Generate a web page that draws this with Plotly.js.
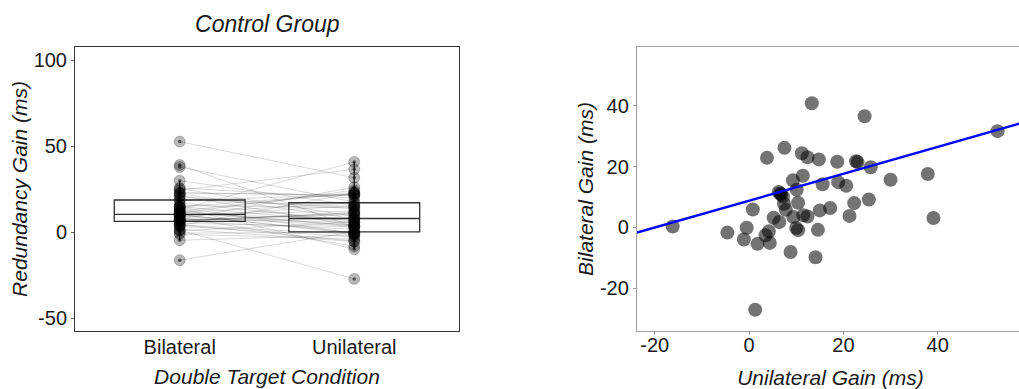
<!DOCTYPE html>
<html>
<head>
<meta charset="utf-8">
<script src="https://cdn.plot.ly/plotly-3.0.1.min.js"></script>
<style>
html,body{margin:0;padding:0;overflow:hidden;background:#fff;}
#chart{width:1024px;height:389px;}
</style>
</head>
<body>
<div id="chart"></div>
<script>
// Paired redundancy gains (ms) per participant, same order in both arrays
const bilateral = [-16.2, 13.3, 24.5, 52.7, 7.5, 3.8, 11.2, 12.4, 14.8, 18.7,
  23.0, 22.7, 25.8, 30.0, 37.9, 39.1, 11.4, 9.3, 15.6, 18.9,
  20.6, 10.1, 6.3, 6.8, 7.2, 7.4, 10.4, 7.8, 0.8, 9.4,
  11.5, 12.4, 10.0, 10.4, 14.6, 15.0, 17.2, 22.3, 25.4, 21.3,
  5.2, 6.4, -0.5, -4.6, -1.1, 1.8, 3.5, 4.2, 4.4, 8.8,
  14.1, 1.3, 6.6];
const unilateral = [0.3, 40.9, 36.6, 31.7, 26.2, 22.9, 24.4, 23.1, 22.4, 21.6,
  21.5, 21.8, 19.8, 15.7, 17.6, 3.1, 17.0, 15.5, 14.2, 14.9,
  13.7, 12.4, 11.7, 10.8, 10.2, 7.8, 8.1, 5.8, 5.9, 3.4,
  4.0, 3.6, -0.2, -0.9, -0.8, 5.6, 6.4, 8.0, 9.2, 3.8,
  3.2, 1.8, -0.1, -1.7, -4.0, -5.4, -2.6, -1.3, -5.1, -8.1,
  -9.8, -27.1, 11.2];
const conditions = ['Bilateral', 'Unilateral'];
const leftTicks = [-50, 0, 50, 100];
const rightTicks = [-20, 0, 20, 40];
// fitted line shown in the scatter panel
const fitIntercept = 8.8;
const fitSlope = 0.443;

const FONT = 'Liberation Sans, Arial, sans-serif';
const TXT = '#1a1a1a';

const n = bilateral.length;
const xBi = bilateral.map(() => conditions[0]);
const xUni = unilateral.map(() => conditions[1]);

// connecting lines
const lx = [], ly = [];
for (let i = 0; i < n; i++) {
  lx.push(conditions[0], conditions[1], null);
  ly.push(bilateral[i], unilateral[i], null);
}

const rightXRange = [-23.76, 58.3];

const boxStyle = {
  type: 'box', boxpoints: 'outliers', width: 0.75, whiskerwidth: 0,
  marker: {opacity: 0, size: 1},
  fillcolor: 'rgba(0,0,0,0)', line: {color: '#333', width: 1.3},
  xaxis: 'x', yaxis: 'y', showlegend: false, hoverinfo: 'skip'
};

const traces = [
  Object.assign({}, boxStyle, {x: xBi, y: bilateral, name: conditions[0]}),
  Object.assign({}, boxStyle, {x: xUni, y: unilateral, name: conditions[1]}),
  {type: 'scatter', mode: 'lines', x: lx, y: ly, xaxis: 'x', yaxis: 'y',
   line: {color: 'rgba(0,0,0,0.15)', width: 1}, showlegend: false, hoverinfo: 'skip'},
  {type: 'scatter', mode: 'markers', x: xBi.concat(xUni), y: bilateral.concat(unilateral),
   xaxis: 'x', yaxis: 'y', showlegend: false,
   marker: {size: 11, color: 'rgba(0,0,0,0.28)', line: {color: 'rgba(0,0,0,0.22)', width: 1}}},
  {type: 'scatter', mode: 'markers', x: xBi.concat(xUni), y: bilateral.concat(unilateral),
   xaxis: 'x', yaxis: 'y', showlegend: false, hoverinfo: 'skip',
   marker: {size: 3.5, color: 'rgba(0,0,0,0.55)'}},
  {type: 'scatter', mode: 'markers', x: bilateral, y: unilateral,
   xaxis: 'x2', yaxis: 'y2', showlegend: false,
   marker: {size: 14, color: 'rgba(0,0,0,0.55)'}},
  {type: 'scatter', mode: 'lines', x: rightXRange,
   y: rightXRange.map(v => fitIntercept + fitSlope * v),
   xaxis: 'x2', yaxis: 'y2', showlegend: false,
   line: {color: '#0000ff', width: 2.5}}
];

const tickFont = {family: FONT, size: 20, color: TXT};
const titleFont = {family: FONT, size: 21, color: TXT, style: 'italic'};
const lbl = v => String(v); // plain hyphen minus, as in the original

const layout = {
  width: 1024, height: 389,
  margin: {l: 75, r: 0, t: 47, b: 58},
  paper_bgcolor: '#fff', plot_bgcolor: '#fff',
  showlegend: false,
  title: {text: 'Control Group', font: {family: FONT, size: 23, color: TXT, style: 'italic'},
          xref: 'container', yref: 'container', x: 267.3 / 1024, y: 1 - 24 / 389,
          xanchor: 'center', yanchor: 'middle'},
  xaxis: {domain: [0, 0.4046], type: 'category', categoryorder: 'array', categoryarray: conditions,
          range: [-0.6, 1.6], showgrid: false, zeroline: false,
          showline: true, mirror: true, linecolor: '#333', linewidth: 1,
          ticks: '', tickfont: tickFont, automargin: false, ticklabelstandoff: -2,
          title: {text: 'Double Target Condition', font: titleFont, standoff: 12}},
  yaxis: {domain: [0, 1], range: [-57.4, 107.7], tickvals: leftTicks, ticktext: leftTicks.map(lbl),
          showgrid: false, zeroline: false,
          showline: true, mirror: true, linecolor: '#333', linewidth: 1,
          ticks: 'outside', ticklen: 3, tickcolor: '#666', tickfont: tickFont, automargin: false,
          title: {text: 'Redundancy Gain (ms)', font: titleFont, standoff: 0}},
  xaxis2: {domain: [0.5922, 1], anchor: 'y2', range: rightXRange, tickvals: rightTicks,
           ticktext: rightTicks.map(lbl),
           showgrid: false, zeroline: false, showline: true, mirror: true, linecolor: '#a0a0a0', linewidth: 1.2,
           ticks: 'outside', ticklen: 3, tickcolor: '#a0a0a0', tickfont: tickFont, automargin: false,
           ticklabelstandoff: -7,
           title: {text: 'Unilateral Gain (ms)', font: titleFont, standoff: 16}},
  yaxis2: {domain: [0, 1], anchor: 'x2', range: [-34.1, 59.4], tickvals: rightTicks,
           ticktext: rightTicks.map(lbl),
           showgrid: false, zeroline: false, showline: true, mirror: true, linecolor: '#a0a0a0', linewidth: 1.2,
           ticks: 'outside', ticklen: 3, tickcolor: '#a0a0a0', tickfont: tickFont, automargin: false,
           title: {text: 'Bilateral Gain (ms)', font: titleFont, standoff: 0}}
};

Plotly.newPlot('chart', traces, layout, {displayModeBar: false, staticPlot: true});
</script>
</body>
</html>
